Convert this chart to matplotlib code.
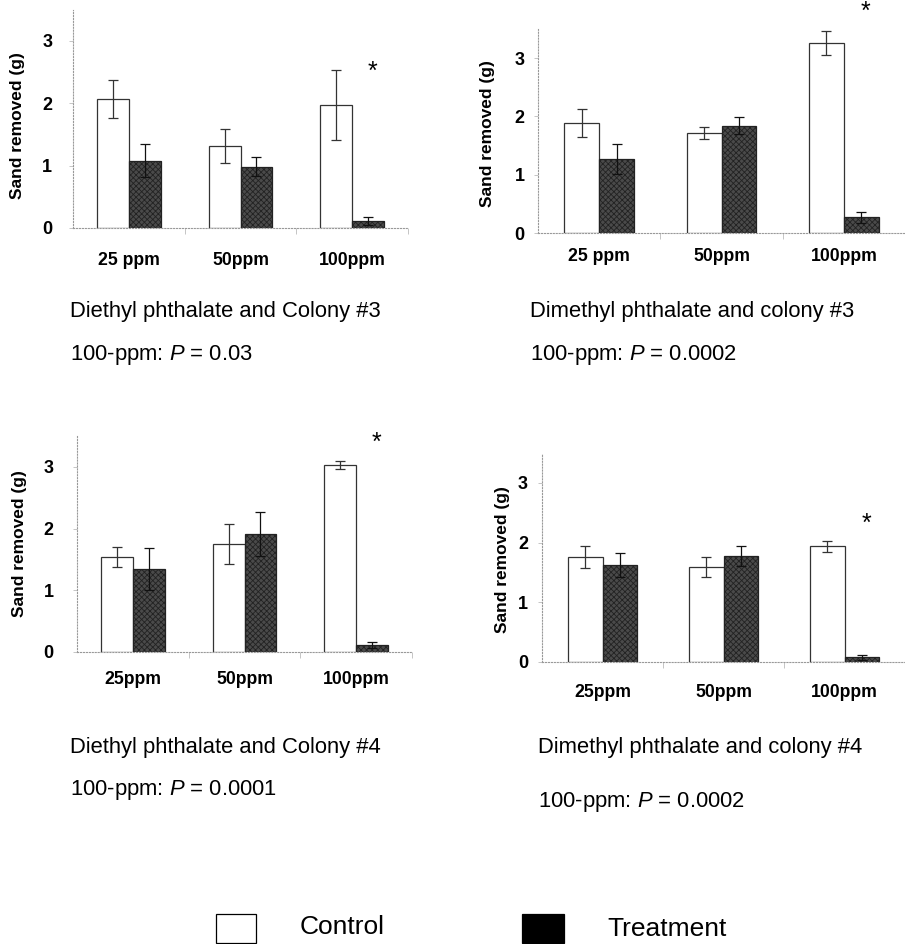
import numpy as np
import matplotlib
matplotlib.use("Agg")
import matplotlib.pyplot as plt
from matplotlib.patches import Rectangle

plt.rcParams['font.family'] = ['Liberation Sans', 'DejaVu Sans']
plt.rcParams['mathtext.fontset'] = 'custom'
plt.rcParams['mathtext.it'] = 'Liberation Sans:italic'
plt.rcParams['mathtext.rm'] = 'Liberation Sans'
plt.rcParams['hatch.linewidth'] = 0.6

# data
labels_a = ['25 ppm', '50ppm', '100ppm']
labels_b = ['25ppm', '50ppm', '100ppm']

ctrl_1 = [2.07, 1.31, 1.97]
ctrl_1_err = [0.30, 0.27, 0.56]
trt_1 = [1.08, 0.98, 0.11]
trt_1_err = [0.26, 0.15, 0.06]

ctrl_2 = [1.89, 1.72, 3.26]
ctrl_2_err = [0.24, 0.10, 0.21]
trt_2 = [1.27, 1.84, 0.27]
trt_2_err = [0.25, 0.15, 0.09]

ctrl_3 = [1.54, 1.75, 3.03]
ctrl_3_err = [0.16, 0.32, 0.06]
trt_3 = [1.34, 1.91, 0.11]
trt_3_err = [0.34, 0.36, 0.05]

ctrl_4 = [1.76, 1.59, 1.94]
ctrl_4_err = [0.18, 0.17, 0.09]
trt_4 = [1.62, 1.77, 0.08]
trt_4_err = [0.20, 0.17, 0.04]

star_y = [2.5, 3.79, 3.39, 2.31]

titles = ['Diethyl phthalate and Colony #3', 'Dimethyl phthalate and colony #3',
          'Diethyl phthalate and Colony #4', 'Dimethyl phthalate and colony #4']
pvals = ['0.03', '0.0002', '0.0001', '0.0002']

W, H = 905, 944
fig = plt.figure(figsize=(W / 100, H / 100), dpi=100)

def fx(px):
    return px / W

def fy(py):
    return 1 - py / H

# axes boxes in pixels: left, right, y of zero, px per unit
boxes = [(73, 408, 228, 62.4), (538, 905, 233, 58.3),
         (77, 412, 652, 61.7), (542, 905, 662, 59.7)]
data = [(ctrl_1, ctrl_1_err, trt_1, trt_1_err, labels_a),
        (ctrl_2, ctrl_2_err, trt_2, trt_2_err, labels_a),
        (ctrl_3, ctrl_3_err, trt_3, trt_3_err, labels_b),
        (ctrl_4, ctrl_4_err, trt_4, trt_4_err, labels_b)]
ypads = [12, 6.5, 14, 7]
xpads = [17.5, 11, 14, 16]
# right edge of the y label (px) and its vertical position (axes fraction)
ylab_pos = [(25, 0.47), (495, 0.485), (27, 0.5), (510, 0.49)]

for i, ((l, r, y0, unit), (c, ce, t, te, labs)) in enumerate(zip(boxes, data)):
    top = 3.5
    ax = fig.add_axes([fx(l), fy(y0), (r - l) / W, top * unit / H])
    x = np.arange(3)
    w = 0.286
    ax.bar(x - w / 2, c, w, color='white', edgecolor='#333333', linewidth=0.9)
    ax.bar(x + w / 2, t, w, color='#4a4a4a', edgecolor='#222222', hatch='xxxxxx', linewidth=0.9)
    ax.errorbar(x - w / 2, c, yerr=ce, fmt='none', ecolor='#333333', elinewidth=0.9, capsize=3.5, capthick=0.9)
    ax.errorbar(x + w / 2, t, yerr=te, fmt='none', ecolor='#111111', elinewidth=0.9, capsize=3.5, capthick=0.9)
    ax.text(2.18, star_y[i], '*', ha='center', va='center', fontsize=18, clip_on=False)
    ax.set_xlim(-0.5, 2.5)
    ax.set_ylim(0, top)
    ax.set_yticks([0, 1, 2, 3])
    ax.set_xticks(x)
    ax.set_xticklabels(labs, fontweight='bold', fontsize=12.7)
    ax.set_xticks([0.5, 1.5, 2.5], minor=True)
    ax.tick_params(axis='x', which='major', length=0, pad=xpads[i])
    ax.tick_params(axis='x', which='minor', length=4, color='#bbbbbb', width=0.6)
    ax.tick_params(axis='y', length=3, color='#bbbbbb', width=0.6, pad=ypads[i], labelsize=13)
    for lab in ax.get_yticklabels():
        lab.set_fontweight('bold')
    for s in ['top', 'right']:
        ax.spines[s].set_visible(False)
    for s in ['left', 'bottom']:
        ax.spines[s].set_linestyle(':')
        ax.spines[s].set_color('#999999')
        ax.spines[s].set_linewidth(0.8)
    ax.set_ylabel('Sand removed (g)', fontweight='bold', fontsize=12.5)
    lx, ly = ylab_pos[i]
    ax.yaxis.set_label_coords(-(l - lx) / (r - l), ly)
    ax.patch.set_alpha(0)

# captions
cap_pos = [(70, 312, 355), (530, 312, 355), (70, 747, 790), (538, 747, 802)]
for (cx, ty, py), ttl, p in zip(cap_pos, titles, pvals):
    fig.text(fx(cx), fy(ty), ttl, fontsize=15.8, va='center', ha='left')
    fig.text(fx(cx), fy(py), '100-ppm: $\\mathit{P}$ = ' + p, fontsize=15.8, va='center', ha='left')

# legend drawn by hand, as in the reference
fig.patches.append(Rectangle((fx(216), fy(943)), 40 / W, 29 / H, transform=fig.transFigure,
                             facecolor='white', edgecolor='black', linewidth=0.9))
fig.patches.append(Rectangle((fx(522), fy(943)), 42 / W, 29 / H, transform=fig.transFigure,
                             facecolor='black', edgecolor='black', linewidth=0.9))
fig.text(fx(300), fy(927), 'Control', fontsize=19, va='center', ha='left')
fig.text(fx(607), fy(929), 'Treatment', fontsize=19, va='center', ha='left')

fig.savefig('out.png', dpi=100)
